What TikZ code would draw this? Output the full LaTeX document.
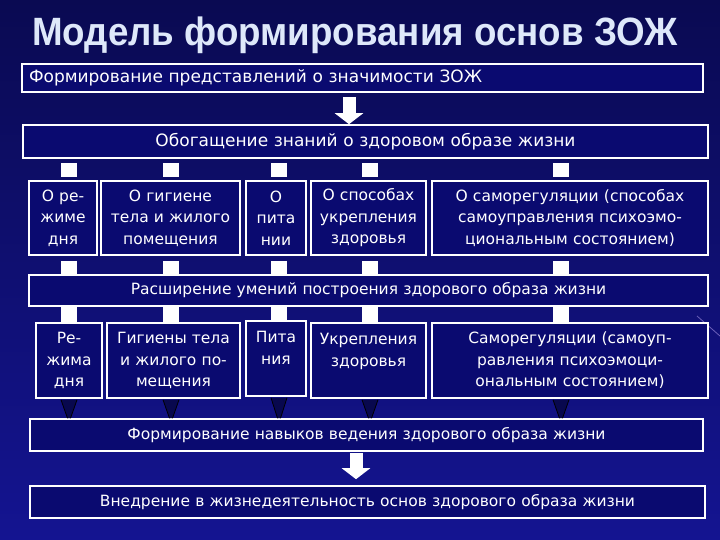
\documentclass[tikz,border=0pt]{standalone}
\usepackage{fontspec}
\setmainfont{DejaVu Sans}
\newfontfamily\titlefont{Liberation Sans}[FakeStretch=0.93]
\usetikzlibrary{calc, arrows.meta}

\definecolor{bgtop}{RGB}{10,10,82}
\definecolor{bgbot}{RGB}{20,20,145}
\definecolor{boxblue}{RGB}{10,10,112}
\definecolor{titleblue}{RGB}{222,232,250}
\definecolor{funnelblue}{RGB}{8,8,78}
\definecolor{streak}{RGB}{170,150,230}

\begin{document}
\begin{tikzpicture}[x=1pt, y=-1pt,
    box/.style={draw=white, line width=1.6pt, fill=boxblue, text=white,
        align=center, inner xsep=2pt, inner ysep=0pt,
        font=\fontsize{15.5}{21.5}\selectfont},
    bigtext/.style={font=\fontsize{17}{21}\selectfont},
    sqlink/.style={draw=white, line width=16pt},
    funnel/.style={fill=funnelblue},
    blockarrow/.style={white, line width=13pt, -{Triangle[width=28pt, length=11pt]}}]
    % Фон
    \useasboundingbox (0,0) rectangle (720,540);
    \shade[top color=bgtop, bottom color=bgbot] (0,0) rectangle (720,540);
    \draw[streak, opacity=0.6, line width=0.8pt] (697,316) -- (720,336);

    % Заголовок
    \node[font=\titlefont\bfseries\fontsize{39.5}{42}\selectfont, text=titleblue, anchor=base]
        (title) at (355,46) {Модель формирования основ ЗОЖ};

    % Уровни
    \node[box, bigtext, text width=667pt, align=left, inner xsep=7pt, minimum height=28pt]
        (fp) at (362.5,78) {Формирование представлений о значимости ЗОЖ};
    \node[box, bigtext, text width=681pt, minimum height=33pt]
        (og) at (365.5,141.5) {Обогащение знаний о здоровом образе жизни};

    % Знания
    \node[box, text width=64pt, minimum height=74pt] (oa) at (63,218) {О ре-\\жиме\\дня};
    \node[box, text width=135pt, minimum height=74pt] (ob) at (170.5,218) {О гигиене\\тела и жилого\\помещения};
    \node[box, text width=56pt, minimum height=74pt] (oc) at (276,218) {О\\пита\\нии};
    \node[box, text width=111pt, minimum height=74pt] (od) at (368.5,218) {О способах\\укрепления\\здоровья};
    \node[box, text width=272pt, minimum height=74pt] (oe) at (570,218)
        {О саморегуляции (способах\\самоуправления психоэмо-\\циональным состоянием)};

    \node[box, text width=675pt, minimum height=31pt]
        (rs) at (368.5,290.5) {Расширение умений построения здорового образа жизни};

    % Умения
    \node[box, text width=62pt, minimum height=75pt] (ua) at (69,360.5) {Ре-\\жима\\дня};
    \node[box, text width=129pt, minimum height=75pt] (ub) at (173.5,360.5) {Гигиены тела\\и жилого по-\\мещения};
    \node[box, text width=56pt, minimum height=75pt] (uc) at (276,358.5) {Пита\\ния\\~};
    \node[box, text width=111pt, minimum height=75pt] (ud) at (368.5,360.5) {Укрепления\\здоровья\\~};
    \node[box, text width=272pt, minimum height=75pt] (ue) at (570,360.5)
        {Саморегуляции (самоуп-\\равления психоэмоци-\\ональным состоянием)};

    \node[box, text width=669pt, minimum height=32pt]
        (nv) at (366.5,435) {Формирование навыков ведения здорового образа жизни};
    \node[box, text width=671pt, minimum height=32pt]
        (vn) at (367.5,502) {Внедрение в жизнедеятельность основ здорового образа жизни};

    % Связи
    \coordinate (k1) at (69,0);
    \coordinate (k2) at (171,0);
    \coordinate (k3) at (279,0);
    \coordinate (k4) at (370,0);
    \coordinate (k5) at (561,0);
    \foreach \k/\u/\d in {k1/oa/ua, k2/ob/ub, k3/oc/uc, k4/od/ud, k5/oe/ue} {
        \draw[sqlink, shorten <=4pt, shorten >=3pt] (\k |- og.south) -- (\k |- \u.north);
        \draw[sqlink, shorten <=5pt] (\k |- \u.south) -- (\k |- rs.north);
        \draw[sqlink] (\k |- rs.south) -- (\k |- \d.north);
        \fill[funnel] ($(\k |- \d.south)+(-8,1)$) -- ($(\k |- \d.south)+(8,1)$)
            -- ($(\k |- nv.north)+(1.5,0)$) -- ($(\k |- nv.north)+(-1.5,0)$) -- cycle;
        \draw[black, line width=0.8pt] ($(\k |- \d.south)+(-8,1)$) -- ($(\k |- nv.north)+(-1.5,0)$)
            ($(\k |- \d.south)+(8,1)$) -- ($(\k |- nv.north)+(1.5,0)$);
    }

    % Стрелки
    \coordinate (a1) at (349,0);
    \coordinate (a2) at (356,0);
    \draw[blockarrow, shorten <=4pt] (a1 |- fp.south) -- (a1 |- og.north);
    \draw[blockarrow, shorten <=1pt, shorten >=6pt] (a2 |- nv.south) -- (a2 |- vn.north);
\end{tikzpicture}
\end{document}
